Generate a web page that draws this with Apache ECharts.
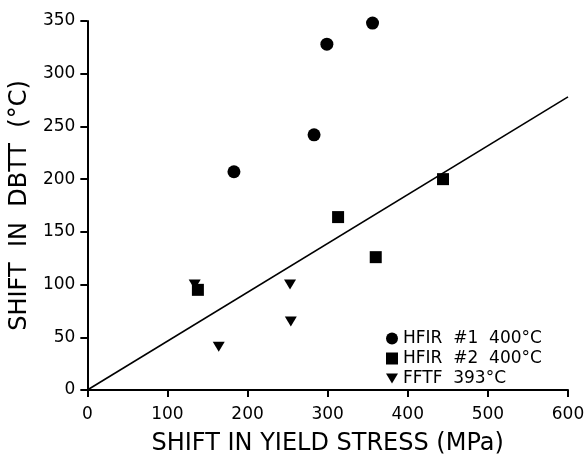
<!DOCTYPE html>
<html>
<head>
<meta charset="utf-8">
<script src="https://cdn.jsdelivr.net/npm/echarts@6/dist/echarts.min.js"></script>
<style>html,body{margin:0;padding:0;background:#fff;}#c{width:588px;height:465px;}</style>
</head>
<body>
<div id="c"></div>
<script>
// Data
const seriesNames = ['HFIR  #1  400°C', 'HFIR  #2  400°C', 'FFTF  393°C'];
const hfir1X = [183, 283, 299, 356];
const hfir1Y = [207, 242, 328, 348];
const hfir2X = [138, 313, 360, 444];
const hfir2Y = [95, 164, 126, 200];
const fftfX = [134, 253, 254, 164];
const fftfY = [100, 100, 65, 41];
const fitX = [0, 600];
const fitY = [0, 278];
const xTicks = [0, 100, 200, 300, 400, 500, 600];
const yTicks = [0, 50, 100, 150, 200, 250, 300, 350];

const pair = (xs, ys) => xs.map((x, i) => [x, ys[i]]);
const FONT = 'DejaVu Sans';
const triPath = 'path://M0,0L12,0L6,10Z';

const chart = echarts.init(document.getElementById('c'), null, {renderer: 'canvas'});
const axisCommon = {
  axisLine: {show: true, lineStyle: {color: '#000', width: 2}},
  axisTick: {show: true, inside: false, length: 7, lineStyle: {color: '#000', width: 2}},
  splitLine: {show: false},
  axisLabel: {color: '#000', fontFamily: FONT, fontSize: 17},
  nameTextStyle: {color: '#000', fontFamily: FONT, fontSize: 24},
  nameLocation: 'middle'
};
const markStyle = {color: '#000', opacity: 1};
chart.setOption({
  animation: false,
  backgroundColor: '#fff',
  grid: {left: 86, top: 21, width: 482, height: 369, containLabel: false},
  xAxis: Object.assign({}, axisCommon, {
    type: 'value', min: xTicks[0], max: xTicks[xTicks.length - 1], interval: 100,
    name: 'SHIFT IN YIELD STRESS (MPa)', nameGap: 42,
    axisLabel: Object.assign({}, axisCommon.axisLabel, {margin: 16})
  }),
  yAxis: Object.assign({}, axisCommon, {
    type: 'value', min: yTicks[0], max: yTicks[yTicks.length - 1], interval: 50,
    name: 'SHIFT  IN  DBTT  (°C)', nameGap: 50,
    axisLabel: Object.assign({}, axisCommon.axisLabel, {margin: 12})
  }),
  legend: {
    orient: 'vertical', left: 381, top: 325,
    itemWidth: 12, itemHeight: 12, itemGap: 3,
    textStyle: {color: '#000', fontFamily: FONT, fontSize: 17, lineHeight: 17},
    itemStyle: {opacity: 1},
    data: [
      {name: seriesNames[0], icon: 'circle'},
      {name: seriesNames[1], icon: 'rect'},
      {name: seriesNames[2], icon: triPath}
    ]
  },
  series: [
    {name: 'fit', type: 'line', data: pair(fitX, fitY), showSymbol: false, symbol: 'none',
     lineStyle: {color: '#000', width: 1.6}, silent: true, z: 1},
    {name: seriesNames[0], type: 'scatter', data: pair(hfir1X, hfir1Y), symbol: 'circle', symbolSize: 13,
     itemStyle: markStyle},
    {name: seriesNames[1], type: 'scatter', data: pair(hfir2X, hfir2Y), symbol: 'rect', symbolSize: 12,
     itemStyle: markStyle},
    {name: seriesNames[2], type: 'scatter', data: pair(fftfX, fftfY), symbol: triPath, symbolSize: [12, 10],
     itemStyle: markStyle}
  ]
});
</script>
</body>
</html>
